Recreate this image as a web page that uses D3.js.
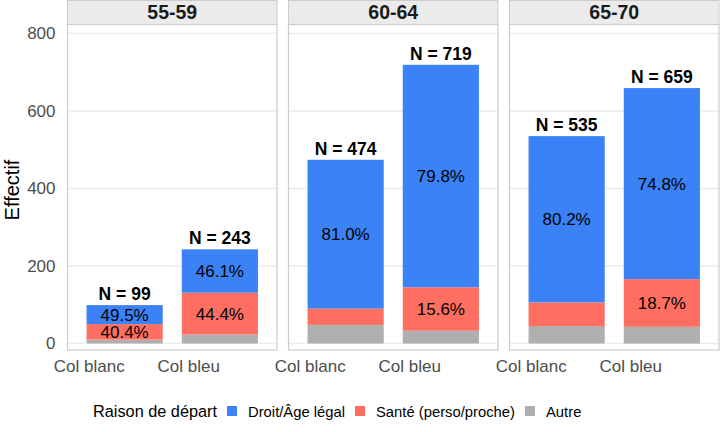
<!DOCTYPE html>
<html><head><meta charset="utf-8">
<script src="https://cdn.jsdelivr.net/npm/d3@7"></script>
<style>body{margin:0;background:#fff}svg{display:block;font-family:"Liberation Sans",Arial,sans-serif}</style>
</head><body><svg id="c" width="720" height="432"></svg>
<script>
const panels = ["55-59", "60-64", "65-70"];
const categories = ["Col blanc", "Col bleu"];
const reasons = ["Droit/Âge légal", "Santé (perso/proche)", "Autre"];
// values per (panel, category), order: 55-59 blanc, 55-59 bleu, 60-64 blanc, ...
const droit = [49, 112, 384, 574, 429, 493];
const sante = [40, 108, 42, 112, 61, 123];
const autre = [10, 23, 48, 33, 45, 43];
const yTicks = [0, 200, 400, 600, 800];
const colors = ["#3B82F6", "#FF6F61", "#AFAFAF"];

(function () {
const svg = d3.select("#c");
const W = 209.5, gap = 11.5, left0 = 67.5, pTop = 24.5, pBottom = 350;
const y = d3.scaleLinear().domain([-16.8, 823]).range([pBottom, pTop]);
const color = d3.scaleOrdinal().domain(reasons).range(colors);

const rows = [];
panels.forEach((p, i) => categories.forEach((c, j) => {
  const k = i * 2 + j;
  rows.push({panel: p, cat: c, "Droit/Âge légal": droit[k], "Santé (perso/proche)": sante[k], "Autre": autre[k]});
}));
rows.forEach(r => r.total = reasons.reduce((s, k) => s + r[k], 0));
const stackOrder = ["Autre", "Santé (perso/proche)", "Droit/Âge légal"];
const series = d3.stack().keys(stackOrder)(rows);

panels.forEach((p, i) => {
  const x0 = left0 + i * (W + gap);
  const g = svg.append("g");
  const x = d3.scaleBand().domain(categories).range([x0, x0 + W]).paddingInner(0.2).paddingOuter(0.2);
  // strip
  g.append("rect").attr("x", x0).attr("y", 0.5).attr("width", W).attr("height", pTop - 0.5)
    .attr("fill", "#EBEBEB").attr("stroke", "#CCCCCC").attr("stroke-width", 1);
  g.append("text").attr("x", x0 + W / 2).attr("y", 19).attr("text-anchor", "middle")
    .attr("font-size", 19.5).attr("font-weight", "bold").attr("fill", "#1A1A1A").text(p);
  // panel bg + grid
  g.append("rect").attr("x", x0).attr("y", pTop).attr("width", W).attr("height", pBottom - pTop).attr("fill", "#fff");
  g.selectAll("line.grid").data(yTicks).join("line")
    .attr("x1", x0).attr("x2", x0 + W).attr("y1", d => y(d)).attr("y2", d => y(d))
    .attr("stroke", "#EBEBEB").attr("stroke-width", 1.4);
  // bars
  series.forEach(s => {
    const key = s.key;
    s.forEach((d, idx) => {
      const r = rows[idx];
      if (r.panel !== p) return;
      g.append("rect").attr("x", x(r.cat)).attr("width", x.bandwidth())
        .attr("y", y(d[1])).attr("height", y(d[0]) - y(d[1])).attr("fill", color(key));
      const pct = r[key] / r.total;
      if (pct >= 0.12) {
        g.append("text").attr("x", x(r.cat) + x.bandwidth() / 2).attr("y", y((d[0] + d[1]) / 2) + 6)
          .attr("text-anchor", "middle").attr("font-size", 17).attr("fill", "#000")
          .text((pct * 100).toFixed(1) + "%");
      }
    });
  });
  // N labels
  rows.filter(r => r.panel === p).forEach(r => {
    g.append("text").attr("x", x(r.cat) + x.bandwidth() / 2).attr("y", y(r.total) - 5)
      .attr("text-anchor", "middle").attr("font-size", 17.5).attr("font-weight", "bold").attr("fill", "#000")
      .text("N = " + r.total);
  });
  // border
  g.append("rect").attr("x", x0).attr("y", pTop).attr("width", W).attr("height", pBottom - pTop)
    .attr("fill", "none").attr("stroke", "#CCCCCC").attr("stroke-width", 1.2);
  // x axis labels (right-aligned on bar centre)
  const xa = g.append("g").attr("transform", `translate(0,${pBottom})`)
    .call(d3.axisBottom(x).tickSize(0).tickPadding(6));
  xa.select(".domain").remove();
  xa.selectAll("text").attr("font-size", 17).attr("fill", "#4D4D4D")
    .attr("font-family", "Liberation Sans, Arial, sans-serif").attr("dy", "0.95em")
    .attr("text-anchor", "end");
  if (i === 0) {
    const ya = svg.append("g").attr("transform", `translate(${x0},0)`)
      .call(d3.axisLeft(y).tickValues(yTicks).tickSize(0).tickPadding(12));
    ya.select(".domain").remove();
    ya.selectAll("text").attr("font-size", 17).attr("fill", "#4D4D4D").attr("font-family", "Liberation Sans, Arial, sans-serif");
  }
});

svg.append("text").attr("transform", "translate(18.5,190) rotate(-90)").attr("text-anchor", "middle")
  .attr("font-size", 20).attr("fill", "#000").text("Effectif");

// legend
const lg = svg.append("g");
lg.append("text").attr("x", 93).attr("y", 417).attr("font-size", 16.3).attr("fill", "#000").text("Raison de départ");
const keyX = [227, 355, 525];
reasons.forEach((r, i) => {
  lg.append("rect").attr("x", keyX[i]).attr("y", 406).attr("width", 10).attr("height", 10).attr("fill", color(r));
  lg.append("text").attr("x", keyX[i] + 21).attr("y", 416.5).attr("font-size", 14.8).attr("fill", "#000").text(r);
});
})();
</script></body></html>
